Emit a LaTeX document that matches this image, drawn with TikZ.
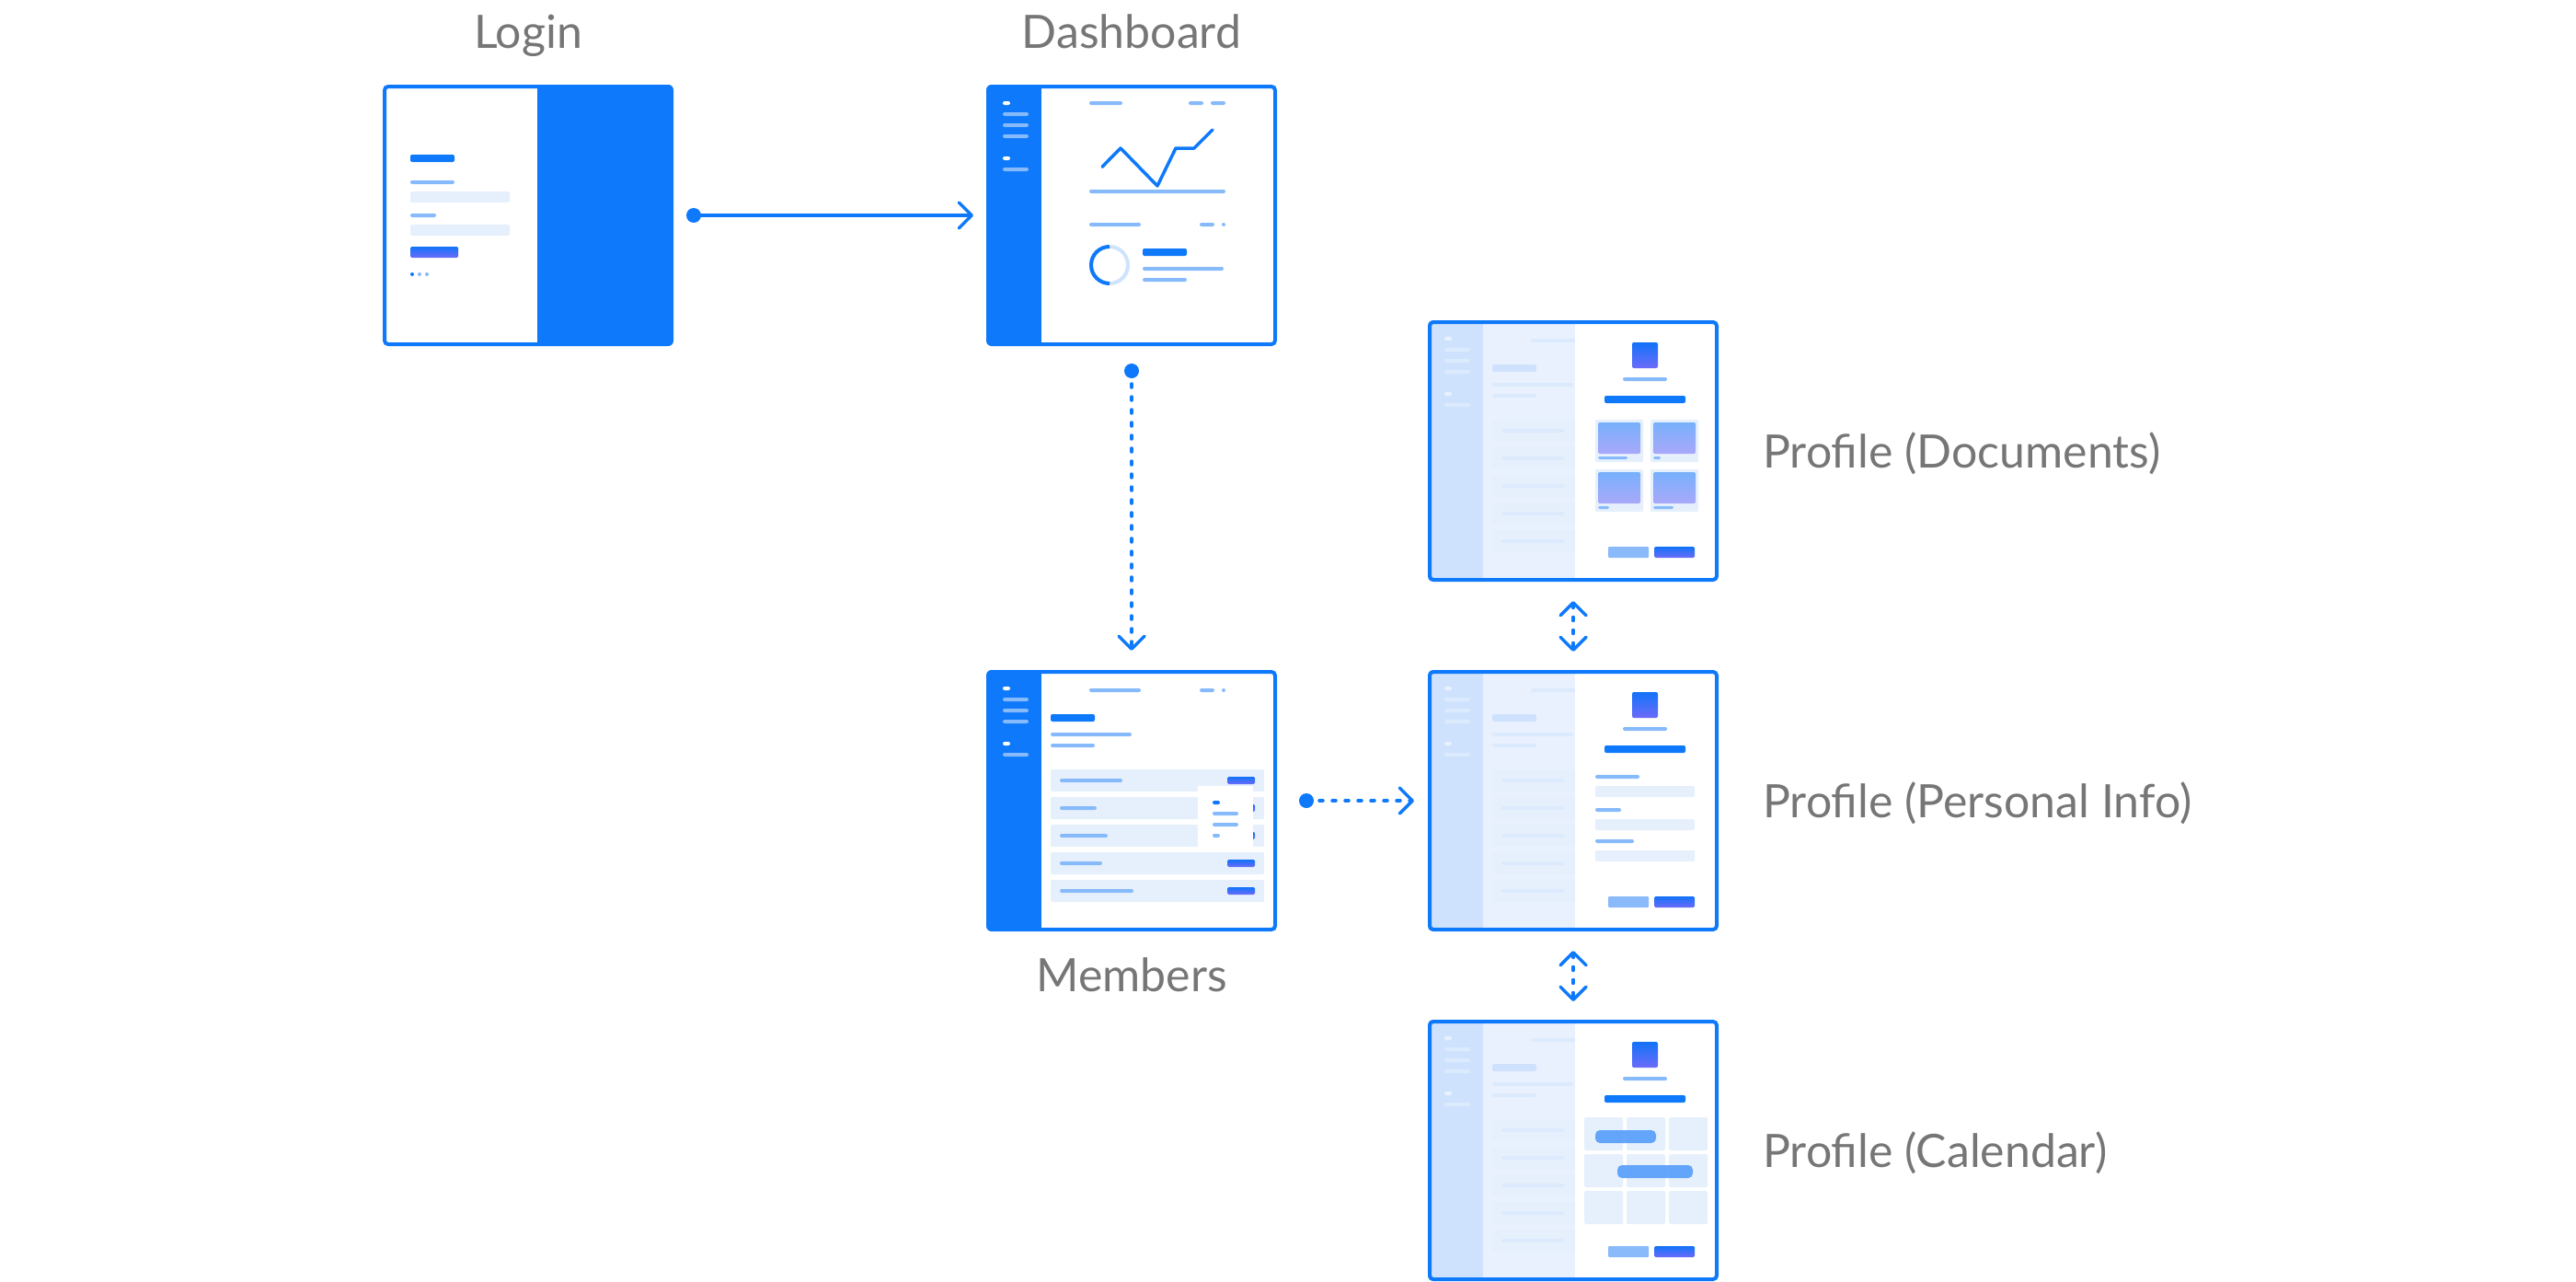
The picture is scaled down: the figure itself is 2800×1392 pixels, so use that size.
\documentclass[tikz,border=0pt]{standalone}
\usepackage{fontspec}
\setmainfont{Lato}
\usetikzlibrary{arrows.meta}
\definecolor{mainblue}{HTML}{0E79FA}
\definecolor{lightline}{HTML}{86BAFB}
\definecolor{palefill}{HTML}{E6F0FD}
\definecolor{gradtop}{HTML}{1273F9}
\definecolor{gradbot}{HTML}{6C6BF9}
\definecolor{imgtop}{HTML}{78B0FB}
\definecolor{imgbot}{HTML}{A9A8FA}
\definecolor{eventblue}{HTML}{5BA2FA}
\definecolor{softbtn}{HTML}{8BBAFB}
\definecolor{donutlight}{HTML}{CFE3FD}
\definecolor{veil}{HTML}{E7F0FE}
\definecolor{labelgray}{HTML}{767676}
\newcommand{\pillr}[5]{\fill[#1,rounded corners=2pt] (#2,#3) rectangle (#4,#5);}
\newcommand{\gbtn}[4]{\shade[top color=gradtop,bottom color=gradbot,rounded corners=1.5pt] (#1,#2) rectangle (#3,#4);}
\newcommand{\sidebarcontent}{%
  \fill[mainblue] (0,0) rectangle (60,284);
  \pillr{white}{18}{18}{26}{22}
  \pillr{lightline}{18}{30}{46}{34}
  \pillr{lightline}{18}{42}{46}{46}
  \pillr{lightline}{18}{54}{46}{58}
  \pillr{white}{18}{78}{26}{82}
  \pillr{lightline}{18}{90}{46}{94}}
\newcommand{\memberscore}[5]{%
  \sidebarcontent
  \pillr{lightline}{112}{20}{168}{24}
  \pillr{lightline}{232}{20}{248}{24}
  \fill[lightline] (258,22) circle[radius=2pt];
  \pillr{mainblue}{70}{48}{118}{56}
  \pillr{lightline}{70}{68}{158}{72}
  \pillr{lightline}{70}{80}{118}{84}
  \foreach \k/\L in {0/#1,1/#2,2/#3,3/#4,4/#5}{
    \fill[palefill,rounded corners=2pt] (70,108+30*\k) rectangle (302,132+30*\k);
    \pillr{lightline}{80}{118+30*\k}{80+\L}{122+30*\k}
  }}
\newcommand{\profilebase}{%
  \memberscore{68}{68}{68}{68}{68}
  \fill[veil,opacity=0.89] (0,0) rectangle (160,284);
  \fill[white] (160,0) rectangle (316,284);
  \shade[top color=gradtop,bottom color=gradbot,rounded corners=2pt] (222,24) rectangle (250,52);
  \pillr{lightline}{212}{62}{260}{66}
  \pillr{mainblue}{192}{82}{280}{90}
  \fill[softbtn,rounded corners=1pt] (196,246) rectangle (240,258);
  \gbtn{246}{246}{290}{258}}
\tikzset{
  frameborder/.style={draw=mainblue,line width=4pt,rounded corners=4pt},
  screen/.style={minimum width=316pt,minimum height=284pt,inner sep=0pt,outer sep=0pt},
  lbl/.style={text=labelgray,font=\fontsize{50}{60}\selectfont,inner sep=0pt},
  chev/.tip={Straight Barb[length=14pt,width=28pt,round]},
  conn/.style={draw=mainblue,line width=3.5pt,line cap=round,-chev},
  dotconn/.style={conn,dash pattern=on 4pt off 10pt},
  biconn/.style={draw=mainblue,line width=3.5pt,line cap=round,dash pattern=on 4pt off 10pt,chev-chev},
  startdot/.style={fill=mainblue}
}
\begin{document}
\begin{tikzpicture}[x=1pt,y=-1pt]
\useasboundingbox (0,0) rectangle (2800,1392);
% screens
\node[screen] (login) at (574,234) {};
\node[screen] (dash) at (1230,234) {};
\node[screen] (members) at (1230,870) {};
\node[screen] (docs) at (1710,490) {};
\node[screen] (pers) at (1710,870) {};
\node[screen] (cal) at (1710,1250) {};
% Login
\begin{scope}[shift={(login.north west)}]
  \begin{scope}
    \clip[rounded corners=6pt] (0,0) rectangle (316,284);
    \fill[white] (0,0) rectangle (316,284);
    \fill[mainblue] (168,0) rectangle (316,284);
    \pillr{mainblue}{30}{76}{78}{84}
    \pillr{lightline}{30}{104}{78}{108}
    \fill[palefill,rounded corners=2pt] (30,116) rectangle (138,128);
    \pillr{lightline}{30}{140}{58}{144}
    \fill[palefill,rounded corners=2pt] (30,152) rectangle (138,164);
    \gbtn{30}{176}{82}{188}
    \fill[mainblue] (32,206) circle[radius=2pt];
    \fill[lightline] (40,206) circle[radius=2pt];
    \fill[lightline] (48,206) circle[radius=2pt];
  \end{scope}
  \draw[frameborder] (2,2) rectangle (314,282);
\end{scope}
% Dashboard
\begin{scope}[shift={(dash.north west)}]
  \begin{scope}
    \clip[rounded corners=6pt] (0,0) rectangle (316,284);
    \fill[white] (0,0) rectangle (316,284);
    \sidebarcontent
    \pillr{lightline}{112}{18}{148}{22}
    \pillr{lightline}{220}{18}{236}{22}
    \pillr{lightline}{244}{18}{260}{22}
    \draw[mainblue,line width=3.5pt,line cap=round,line join=round]
      (126,89.3) -- (146,69) -- (186,110) -- (206,69) -- (226,69) -- (246,49);
    \pillr{lightline}{112}{114}{260}{118}
    \pillr{lightline}{112}{150}{168}{154}
    \pillr{lightline}{232}{150}{248}{154}
    \fill[lightline] (258,152) circle[radius=2pt];
    \draw[donutlight,line width=4pt] (134,196) circle[radius=20pt];
    \draw[mainblue,line width=4pt] (134,176) arc[start angle=90,end angle=270,radius=20pt];
    \pillr{mainblue}{170}{178}{218}{186}
    \pillr{lightline}{170}{198}{258}{202}
    \pillr{lightline}{170}{210}{218}{214}
  \end{scope}
  \draw[frameborder] (2,2) rectangle (314,282);
\end{scope}
% Members
\begin{scope}[shift={(members.north west)}]
  \begin{scope}
    \clip[rounded corners=6pt] (0,0) rectangle (316,284);
    \fill[white] (0,0) rectangle (316,284);
    \memberscore{68}{40}{52}{46}{80}
    \foreach \k in {0,...,4}{\gbtn{262}{116+30*\k}{292}{124+30*\k}}
    \fill[white] (230,126) rectangle (290,192);
    \pillr{mainblue}{246}{142}{254}{146}
    \pillr{lightline}{246}{154}{274}{158}
    \pillr{lightline}{246}{166}{274}{170}
    \pillr{lightline}{246}{178}{254}{182}
  \end{scope}
  \draw[frameborder] (2,2) rectangle (314,282);
\end{scope}
% Profile (Documents)
\begin{scope}[shift={(docs.north west)}]
  \begin{scope}
    \clip[rounded corners=6pt] (0,0) rectangle (316,284);
    \fill[white] (0,0) rectangle (316,284);
    \profilebase
    \foreach \cx/\cy/\cl in {182/108/32,242/108/8,182/162/12,242/162/22}{
      \fill[palefill,rounded corners=1pt] (\cx,\cy) rectangle (\cx+52,\cy+46);
      \shade[top color=imgtop,bottom color=imgbot,rounded corners=1.5pt] (\cx+3,\cy+3) rectangle (\cx+49,\cy+37);
      \fill[lightline,rounded corners=1.5pt] (\cx+3,\cy+40) rectangle (\cx+3+\cl,\cy+43);
    }
  \end{scope}
  \draw[frameborder] (2,2) rectangle (314,282);
\end{scope}
% Profile (Personal Info)
\begin{scope}[shift={(pers.north west)}]
  \begin{scope}
    \clip[rounded corners=6pt] (0,0) rectangle (316,284);
    \fill[white] (0,0) rectangle (316,284);
    \profilebase
    \pillr{lightline}{182}{114}{230}{118}
    \fill[palefill,rounded corners=2pt] (182,126) rectangle (290,138);
    \pillr{lightline}{182}{150}{210}{154}
    \fill[palefill,rounded corners=2pt] (182,162) rectangle (290,174);
    \pillr{lightline}{182}{184}{224}{188}
    \fill[palefill,rounded corners=2pt] (182,196) rectangle (290,208);
  \end{scope}
  \draw[frameborder] (2,2) rectangle (314,282);
\end{scope}
% Profile (Calendar)
\begin{scope}[shift={(cal.north west)}]
  \begin{scope}
    \clip[rounded corners=6pt] (0,0) rectangle (316,284);
    \fill[white] (0,0) rectangle (316,284);
    \profilebase
    \foreach \gx in {170,216,262}{
      \foreach \gy in {106,146,186}{
        \fill[palefill,rounded corners=1.5pt] (\gx,\gy) rectangle (\gx+42,\gy+36);
      }}
    \fill[eventblue,opacity=0.95,rounded corners=5pt] (182,120) rectangle (248,134);
    \fill[eventblue,opacity=0.95,rounded corners=5pt] (206,158) rectangle (288,172);
  \end{scope}
  \draw[frameborder] (2,2) rectangle (314,282);
\end{scope}
% labels
\node[lbl,anchor=base] (loginlbl) at (574,52) {Login};
\node[lbl,anchor=base] (dashlbl) at (1230,52) {Dashboard};
\node[lbl,anchor=base] (memlbl) at (1230,1077) {Members};
\node[lbl,anchor=base west] (docslbl) at (1916,508) {Profile (Documents)};
\node[lbl,anchor=base west] (perslbl) at (1916,888) {Profile (Personal Info)};
\node[lbl,anchor=base west] (callbl) at (1916,1268) {Profile (Calendar)};
% connectors
\coordinate (s1) at ([xshift=22pt]login.east);
\coordinate (s2) at ([yshift=-27pt]dash.south);
\coordinate (s3) at ([xshift=32pt]members.east);
\draw[conn] (s1) -- ([xshift=-14pt]dash.west);
\fill[startdot] (s1) circle[radius=8pt];
\draw[dotconn] (s2) -- ([yshift=21pt]members.north);
\fill[startdot] (s2) circle[radius=8pt];
\draw[dotconn] (s3) -- ([xshift=-15pt]pers.west);
\fill[startdot] (s3) circle[radius=8pt];
\draw[biconn] ([yshift=-21pt]docs.south) -- ([yshift=20pt]pers.north);
\draw[biconn] ([yshift=-21pt]pers.south) -- ([yshift=20pt]cal.north);
\end{tikzpicture}
\end{document}
